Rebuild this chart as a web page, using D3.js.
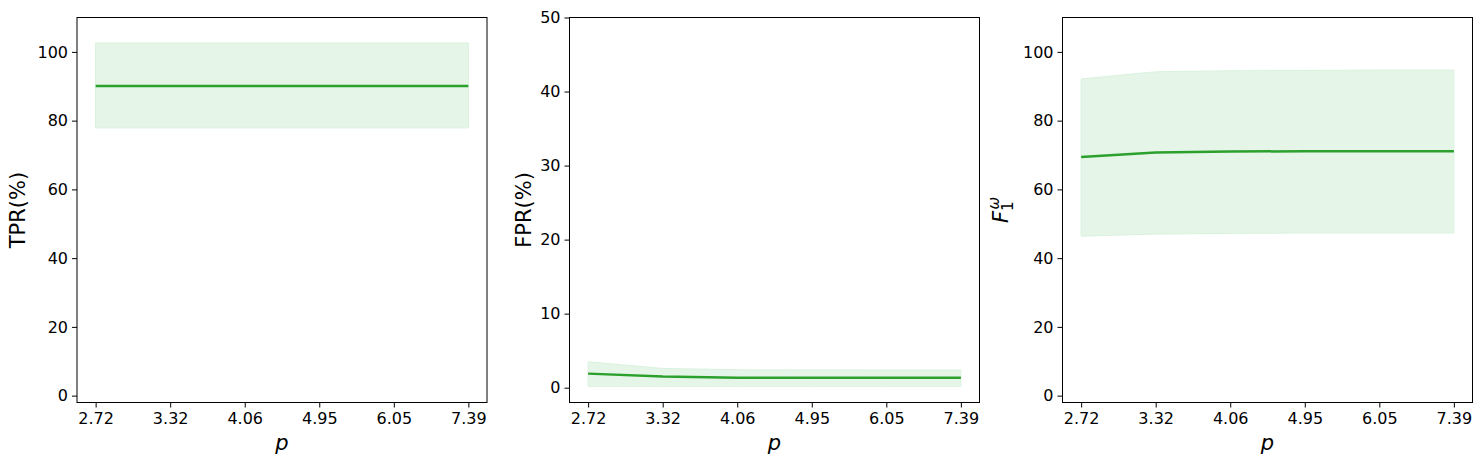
<!DOCTYPE html>
<html>
<head>
<meta charset="utf-8">
<script src="https://cdn.jsdelivr.net/npm/d3@7"></script>
<style>
  body { margin: 0; background: #fff; }
  svg { display: block; font-family: "DejaVu Sans", sans-serif; }
</style>
</head>
<body>
<svg id="chart"></svg>
<script>
const width = 1481;
const height = 465;

// x categories (p values)
const pLabels = ["2.72", "3.32", "4.06", "4.95", "6.05", "7.39"];

// TPR (%)
const tprMean = [90.1, 90.1, 90.1, 90.1, 90.1, 90.1];
const tprLow = [77.9, 77.9, 77.9, 77.9, 77.9, 77.9];
const tprHigh = [102.6, 102.6, 102.6, 102.6, 102.6, 102.6];

// FPR (%)
const fprMean = [1.9, 1.5, 1.35, 1.34, 1.33, 1.33];
const fprLow = [0.18, 0.18, 0.18, 0.18, 0.18, 0.18];
const fprHigh = [3.5, 2.6, 2.42, 2.4, 2.38, 2.38];

// F1^w
const f1Mean = [69.4, 70.7, 71.0, 71.1, 71.1, 71.1];
const f1Low = [46.4, 47.0, 47.2, 47.3, 47.3, 47.3];
const f1High = [92.1, 94.2, 94.5, 94.6, 94.7, 94.7];

const yTicksWide = [0, 20, 40, 60, 80, 100];
const yTicksNarrow = [0, 10, 20, 30, 40, 50];

const lineColor = "#2ca02c";
const bandColor = "#e5f6e8";

const svg = d3.select("#chart").attr("width", width).attr("height", height);

const panels = [
  { left: 77, label: "TPR(%)", labelX: 18, domain: [-2, 110], ticks: yTicksWide,
    mean: tprMean, low: tprLow, high: tprHigh },
  { left: 569.5, label: "FPR(%)", labelX: 524, domain: [-2, 50], ticks: yTicksNarrow,
    mean: fprMean, low: fprLow, high: fprHigh },
  { left: 1062.5, label: "F1w", labelX: 1001, domain: [-2, 110], ticks: yTicksWide,
    mean: f1Mean, low: f1Low, high: f1High }
];

const plotTop = 17.5, plotBottom = 402.5, panelW = 410;

panels.forEach(pn => {
  const x = d3.scalePoint().domain(pLabels).range([pn.left, pn.left + panelW]).padding(0.25);
  const y = d3.scaleLinear().domain(pn.domain).range([plotBottom, plotTop]);
  const g = svg.append("g");

  // confidence band
  const area = d3.area()
    .x((d, i) => x(pLabels[i]))
    .y0((d, i) => y(pn.low[i]))
    .y1((d, i) => y(pn.high[i]));
  g.append("path")
    .datum(pn.mean)
    .attr("d", area)
    .attr("fill", bandColor)
    .attr("stroke", "#d9f2dd")
    .attr("stroke-width", 1);

  // mean line
  const line = d3.line()
    .x((d, i) => x(pLabels[i]))
    .y(d => y(d));
  g.append("path")
    .datum(pn.mean)
    .attr("d", line)
    .attr("fill", "none")
    .attr("stroke", lineColor)
    .attr("stroke-width", 2.5);

  // axes
  const xAxis = g.append("g")
    .attr("transform", `translate(0, ${plotBottom})`)
    .call(d3.axisBottom(x).tickSizeOuter(0).tickSize(5).tickPadding(5));
  const yAxis = g.append("g")
    .attr("transform", `translate(${pn.left}, 0)`)
    .call(d3.axisLeft(y).tickValues(pn.ticks).tickSizeOuter(0).tickSize(5).tickPadding(4));
  [xAxis, yAxis].forEach(a => {
    a.select(".domain").remove();
    a.selectAll("text").attr("font-size", 16).attr("fill", "#000")
      .attr("font-family", "DejaVu Sans, sans-serif");
    a.selectAll("line").attr("stroke", "#000");
  });

  // frame
  g.append("rect")
    .attr("x", pn.left).attr("y", plotTop)
    .attr("width", panelW).attr("height", plotBottom - plotTop)
    .attr("fill", "none").attr("stroke", "#000").attr("stroke-width", 1);

  // x label
  g.append("text")
    .attr("x", pn.left + panelW / 2).attr("y", 450)
    .attr("text-anchor", "middle")
    .attr("font-size", 21).attr("font-style", "italic")
    .text("p");

  // y label
  const yl = g.append("text")
    .attr("transform", `translate(${pn.labelX + 7}, ${(plotTop + plotBottom) / 2}) rotate(-90)`)
    .attr("text-anchor", "middle")
    .attr("font-size", 21);
  if (pn.label === "F1w") {
    yl.append("tspan").attr("font-style", "italic").text("F");
    yl.append("tspan").attr("font-size", 15).attr("dy", 5).text("1");
    yl.append("tspan").attr("font-size", 15).attr("font-style", "italic")
      .attr("dx", -8).attr("dy", -14).text("ω");
  } else {
    yl.text(pn.label);
  }
});
</script>
</body>
</html>
